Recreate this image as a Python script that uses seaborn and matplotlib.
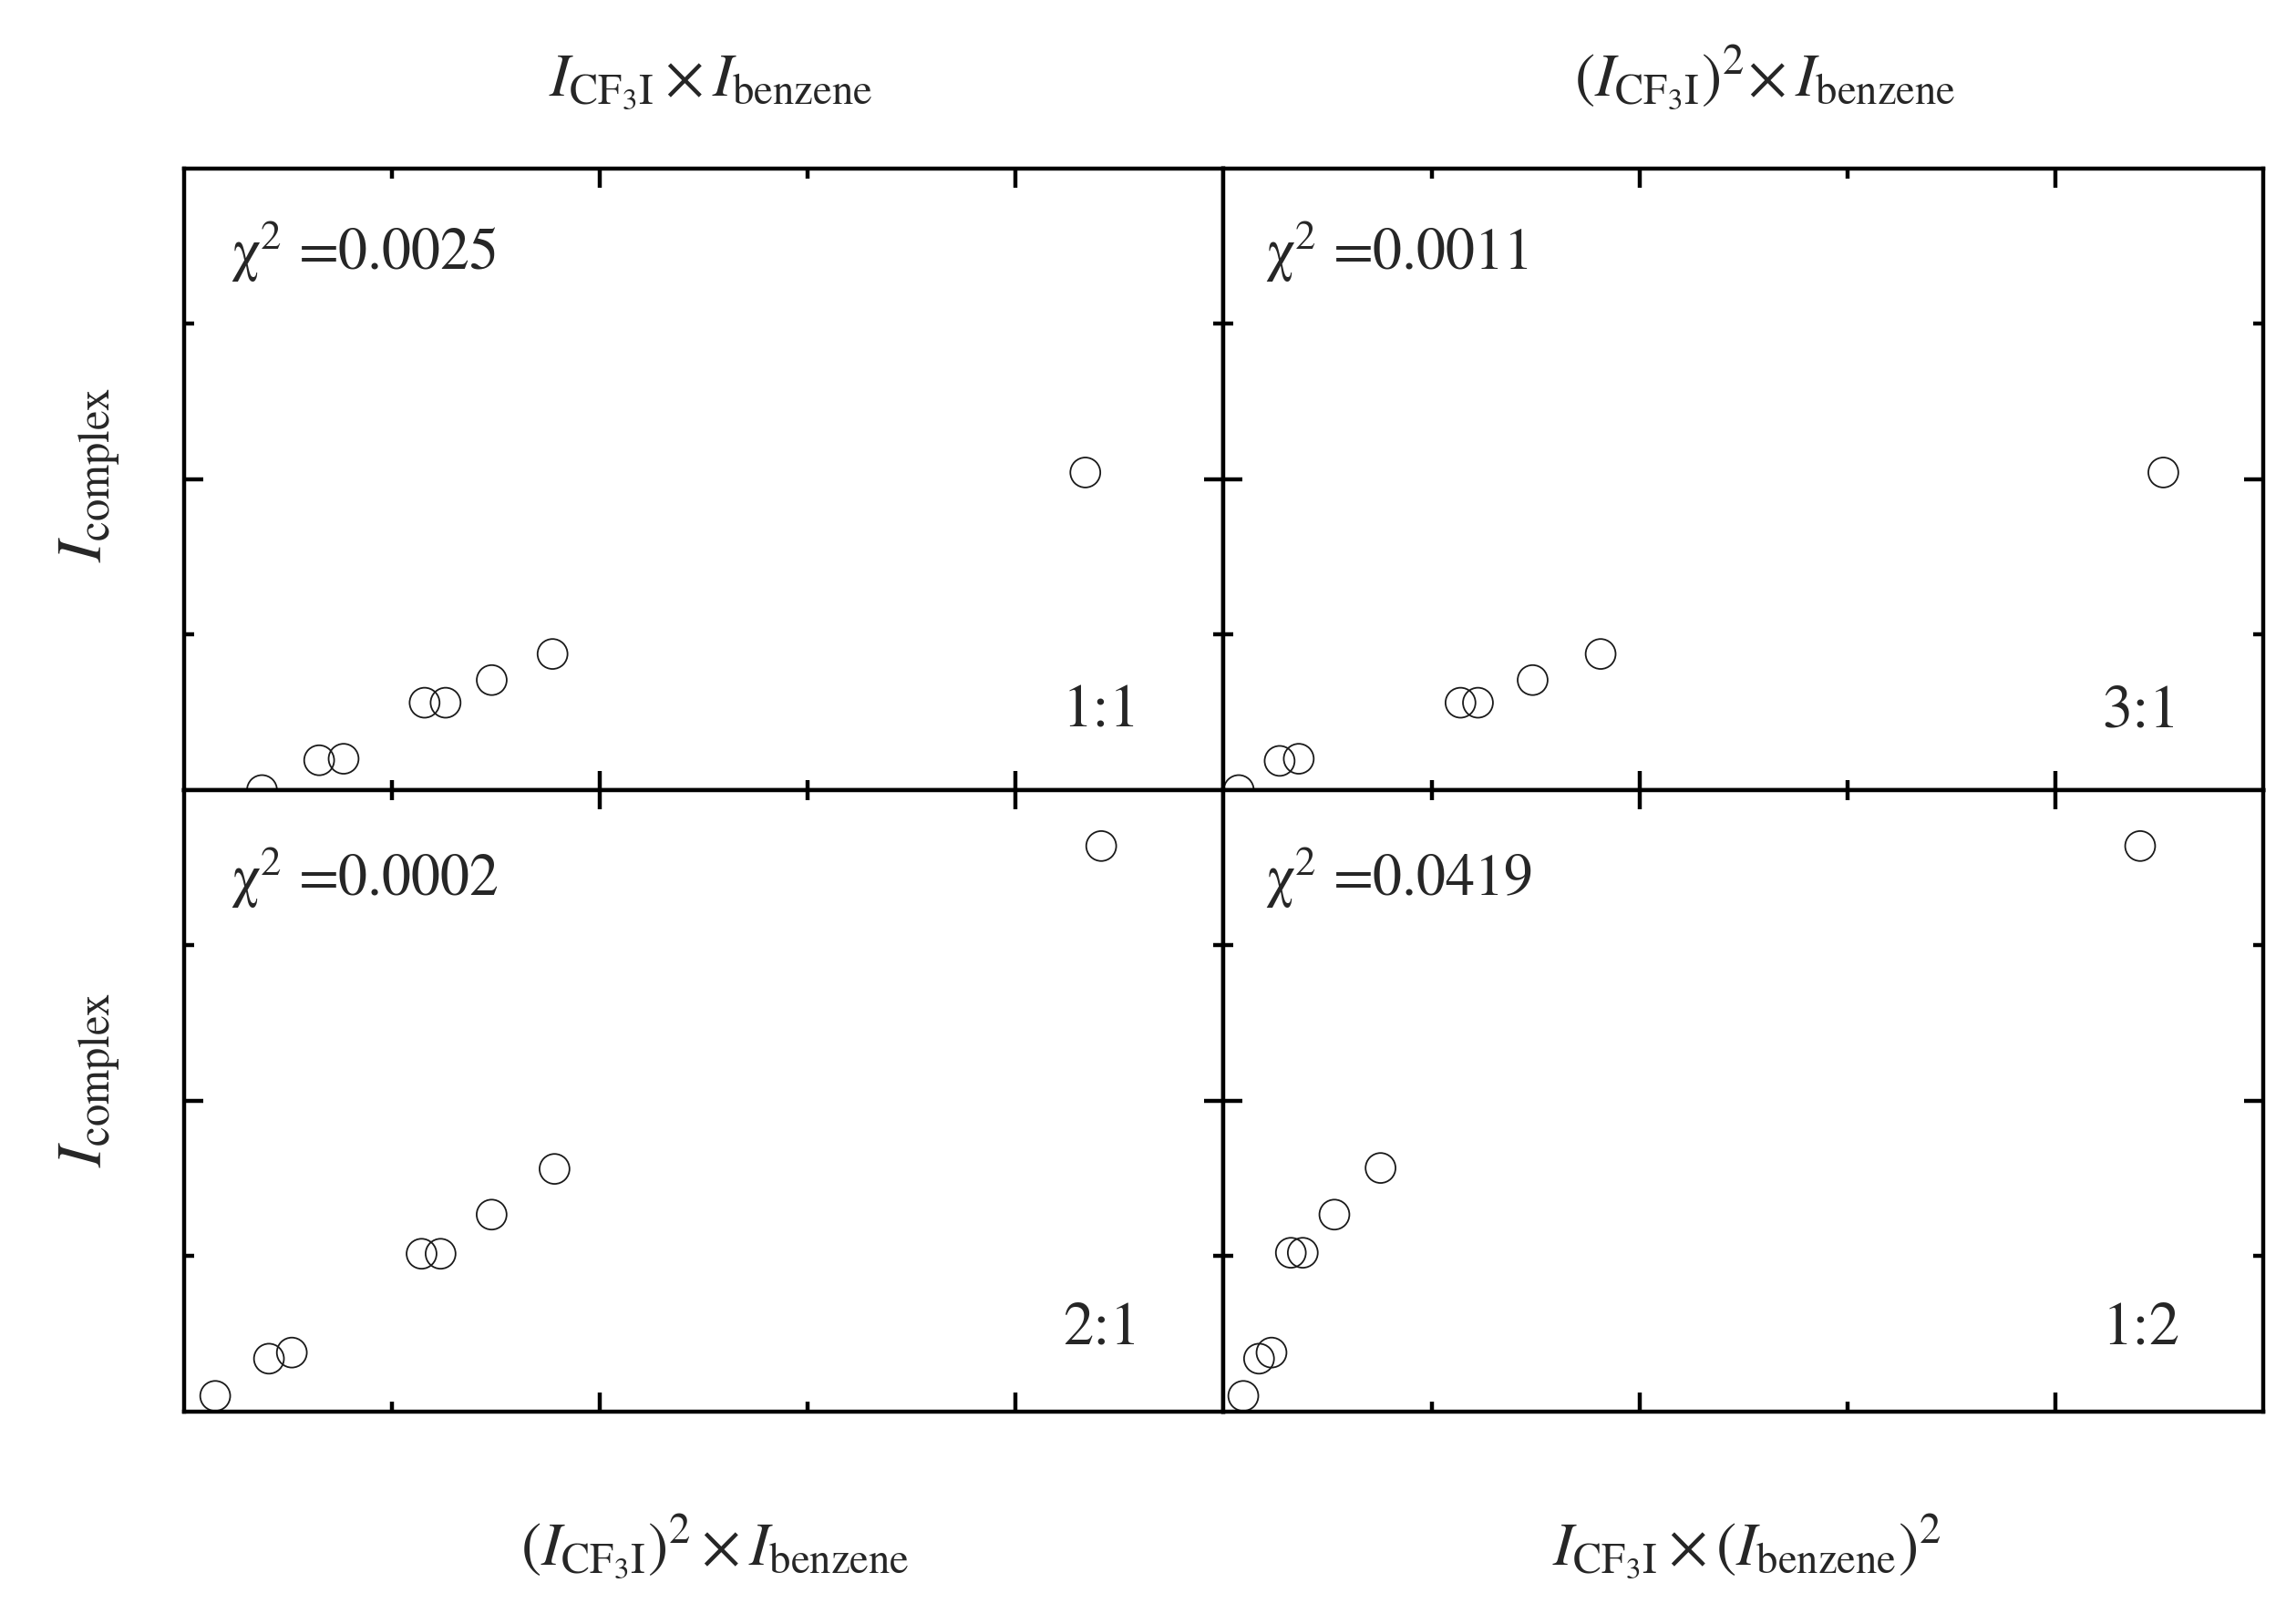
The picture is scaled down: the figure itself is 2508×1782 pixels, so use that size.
import pandas as pd
import seaborn as sns
import matplotlib
matplotlib.use('Agg')
import matplotlib.pyplot as plt

# normalised data (axes run 0..1, no tick labels)
x_11 = [0.075, 0.130, 0.1535, 0.2314, 0.2516, 0.296, 0.3545, 0.867]
y_11 = [0.0, 0.048, 0.0504, 0.1406, 0.1406, 0.177, 0.219, 0.511]

x_31 = [0.0146, 0.0539, 0.0723, 0.2279, 0.2447, 0.2973, 0.3627, 0.904]
y_31 = [0.0, 0.047, 0.0504, 0.1406, 0.1406, 0.177, 0.219, 0.511]

x_21 = [0.030, 0.0817, 0.1037, 0.2285, 0.2468, 0.2959, 0.3564, 0.8823]
y_21 = [0.0253, 0.0852, 0.095, 0.254, 0.254, 0.317, 0.3905, 0.910]

x_12 = [0.019, 0.0341, 0.0461, 0.0647, 0.0762, 0.1066, 0.151, 0.8817]
y_12 = [0.0253, 0.0852, 0.095, 0.2556, 0.2556, 0.317, 0.392, 0.910]

chi2 = ['0.0025', '0.0011', '0.0002', '0.0419']
ratios = ['1:1', '3:1', '2:1', '1:2']

col_titles = [r'$I_{\mathrm{CF}_3\mathrm{I}} \times I_{\mathrm{benzene}}$',
              r'$(I_{\mathrm{CF}_3\mathrm{I}})^2\!\times I_{\mathrm{benzene}}$']
bottom_labels = [r'$(I_{\mathrm{CF}_3\mathrm{I}})^2 \times I_{\mathrm{benzene}}$',
                 r'$I_{\mathrm{CF}_3\mathrm{I}} \times (I_{\mathrm{benzene}})^2$']
ylab = r'$I_{\mathrm{complex}}$'

sns.set_style('ticks')
plt.rcParams['font.family'] = ['STIXGeneral', 'Liberation Serif', 'DejaVu Serif']
plt.rcParams['mathtext.fontset'] = 'stix'

fig, axes = plt.subplots(2, 2, figsize=(25.08, 17.83), dpi=100)
fig.subplots_adjust(left=0.0805, right=0.990, top=0.8957, bottom=0.1307,
                    wspace=0, hspace=0)

panels = [(x_11, y_11), (x_31, y_31), (x_21, y_21), (x_12, y_12)]

for i, ax in enumerate(axes.flat):
    px, py = panels[i]
    df = pd.DataFrame({'x': px, 'y': py})
    sns.scatterplot(data=df, x='x', y='y', ax=ax, marker='o', s=560,
                    facecolor='none', edgecolor='#1a1a1a', linewidth=1.3)
    ax.set_xlim(0, 1)
    ax.set_ylim(0, 1)
    ax.set_xticks([0.4, 0.8])
    ax.set_xticks([0.2, 0.6], minor=True)
    ax.set_yticks([0.5])
    ax.set_yticks([0.25, 0.75], minor=True)
    ax.tick_params(which='both', direction='in', top=True, right=True,
                   labelbottom=False, labelleft=False, width=3.2, color='black')
    ax.tick_params(which='major', length=15)
    ax.tick_params(which='minor', length=8)
    for sp in ax.spines.values():
        sp.set_linewidth(3.2)
        sp.set_color('black')
    ax.set_xlabel('')
    ax.set_ylabel('')
    ty = 0.838 if i < 2 else 0.831
    ax.text(0.045 if i % 2 == 0 else 0.040, ty, 'χ$^2$ =' + chi2[i],
            transform=ax.transAxes, fontsize=46, va='baseline', ha='left')
    ry = 0.103 if i < 2 else 0.111
    ax.text(0.92, ry, ratios[i], transform=ax.transAxes, fontsize=48,
            va='baseline', ha='right')

fig.text(0.311, 0.941, col_titles[0], fontsize=48, ha='center', va='baseline')
fig.text(0.772, 0.941, col_titles[1], fontsize=48, ha='center', va='baseline')
fig.text(0.3126, 0.037, bottom_labels[0], fontsize=48, ha='center', va='baseline')
fig.text(0.764, 0.037, bottom_labels[1], fontsize=48, ha='center', va='baseline')
fig.text(0.039, 0.708, ylab, fontsize=50, rotation=90, ha='center', va='center')
fig.text(0.039, 0.3354, ylab, fontsize=50, rotation=90, ha='center', va='center')

plt.savefig('out.png', dpi=100, facecolor='white')
